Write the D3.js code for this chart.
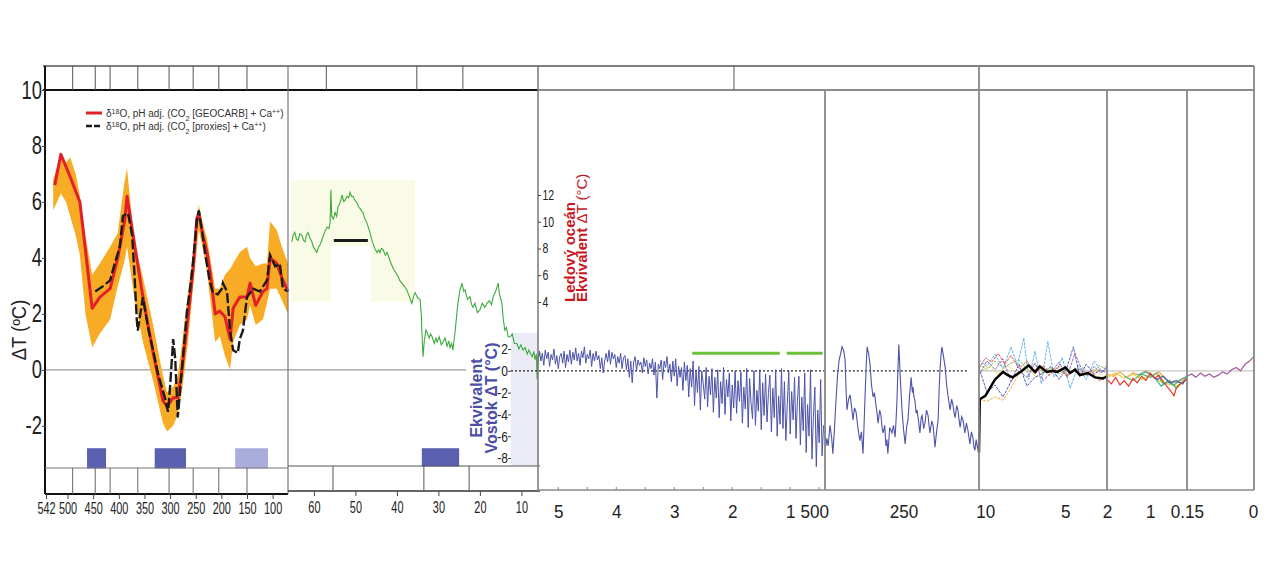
<!DOCTYPE html>
<html lang="cs">
<head>
<meta charset="UTF-8">
<title>Teplota Země – fanerozoikum až současnost</title>
<script src="https://d3js.org/d3.v7.min.js"></script>
<style type="text/css">
    body { margin: 0; background: #fff; }
    #chartArea { width: 1270px; height: 569px; }
    svg text { font-family: 'Liberation Sans', Arial, sans-serif; }
</style>
</head>
<body>
<div id="chartArea"></div>
<script type="text/javascript">
// ---------------- data ----------------
var yTicksMain = [10, 8, 6, 4, 2, 0, -2];
var yTicksDeep = [12, 10, 8, 6, 4];
var yTicksVostok = [2, 0, -2, -4, -6, -8];
var phanTicks = [542, 500, 450, 400, 350, 300, 250, 200, 150, 100];
var cenoTicks = [60, 50, 40, 30, 20, 10];
var plioTicks = [5, 4, 3, 2, 1];
var plioMinor = [5, 4.5, 4, 3.5, 3, 2.5, 2, 1.5, 1, 0.5];
var vostokTicks = [500, 250];
var holoTicks = [10, 5, 2];
var millTicks = [1, 0.15];
var modernTicks = [0];

// period / epoch boundaries (Ma) seen in the strips
var periodBounds = [490, 446, 417, 363, 302, 255, 205, 150];
var epochTop = [57, 35.2, 24.1];
var epochBottom = [55.4, 33.5, 22.6];
var plioTop = [1.97];

// glaciations (Ma)
var phanGlacial = [[462, 425], [330, 269]];
var phanGlacialLight = [[173, 109]];
var cenoGlacial = [[34, 25]];

// Royer: d18O pH adj. GEOCARB (red), proxies (black dashed), band [Ma, lo, hi]
var royerRed = [[525,6.6],[513,7.7],[495,6.9],[476,6.0],[452,2.2],[437,2.6],[417,2.9],[402,4.0],[388,5.4],[384,6.2],
    [353,2.6],[333,0.6],[314,-1.1],[306,-1.3],[294,-1.0],[285,-1.0],[277,0.0],[265,1.9],[255,3.6],[248,5.4],[244,5.6],
    [236,4.8],[228,4.2],[222,3.5],[212,2.0],[203,2.1],[193,1.9],[183,1.1],[177,2.2],[164,2.6],[150,2.6],[144,3.1],
    [133,2.3],[119,2.8],[111,2.9],[105,4.0],[92,3.8],[82,3.3],[70,2.8]];
var royerProxy = [[446,2.8],[430,3.0],[417,3.2],[408,3.8],[398,4.4],[392,5.5],[382,5.6],[374,4.8],[370,3.6],[365,1.8],
    [363,1.4],[353,2.6],[343,1.5],[333,0.7],[324,-0.1],[310,-1.0],[304,-1.5],[300,-0.6],[294,1.1],[290,0.4],[285,-1.7],
    [277,0.0],[267,2.1],[261,2.9],[255,3.9],[248,5.3],[244,5.7],[238,5.0],[232,4.2],[222,3.1],[216,2.75],[207,2.7],
    [199,2.9],[197,3.1],[189,2.8],[183,1.4],[177,0.7],[168,0.6],[164,1.1],[158,1.4],[150,2.6],[138,2.9],[125,2.8],
    [111,3.2],[105,4.1],[95,3.7],[86,3.8],[80,2.9],[70,2.8]];
var royerBand = [[528,5.7,6.8],[513,6.3,7.7],[503,6.0,7.4],[495,5.5,7.6],[484,4.8,7.0],[476,4.1,6.2],[465,2.0,4.8],
    [452,0.8,3.4],[437,1.3,3.8],[417,1.8,4.4],[402,3.0,4.9],[390,3.8,6.6],[384,4.4,7.2],[370,2.6,4.6],[353,1.0,3.3],
    [333,-0.4,1.6],[314,-1.9,-0.2],[306,-2.2,-0.8],[294,-2.0,-0.6],[285,-1.6,-0.2],[277,-0.8,0.9],[265,1.0,2.8],
    [255,3.0,4.2],[244,5.0,5.9],[236,4.3,5.2],[228,3.5,4.7],[212,1.0,2.9],[203,1.2,2.9],[193,0.5,3.4],[183,0.0,3.6],
    [177,1.0,3.8],[164,1.6,4.2],[150,1.8,4.4],[144,2.3,4.0],[133,1.6,3.7],[119,1.8,3.8],[111,2.4,3.8],[105,2.9,5.3],
    [92,2.9,5.0],[82,2.5,4.4],[70,2.0,3.8]];

// Cenozoic deep ocean (Ma, deg C) and Eocene bar
var deepOcean = [[65.3,8.5],[65.0,9.0],[64.6,9.2],[64.2,8.7],[63.8,8.6],[63.4,9.1],[62.9,9.0],[62.5,8.6],[62.1,8.5],
    [61.8,9.0],[61.4,9.2],[61.0,8.8],[60.5,8.5],[60.1,8.1],[59.7,7.9],[59.3,7.7],[58.9,8.1],[58.5,8.3],[58.1,8.6],
    [57.8,8.9],[57.3,9.3],[56.8,9.6],[56.4,9.5],[56.1,9.9],[55.9,12.4],[55.7,10.4],[55.3,10.2],[54.9,10.7],[54.5,10.4],
    [54.2,11.1],[53.7,11.4],[53.2,12.0],[52.8,11.5],[52.5,11.6],[52.0,11.9],[51.6,11.8],[51.3,12.2],[50.9,11.9],
    [50.6,11.9],[50.1,11.6],[49.6,11.4],[49.2,11.1],[48.9,11.0],[48.5,10.8],[48.2,10.7],[47.7,10.2],[47.2,9.9],
    [46.8,9.5],[46.5,9.2],[46.1,8.7],[45.8,8.4],[45.3,8.0],[44.8,7.7],[44.4,7.9],[44.1,7.7],[43.7,8.0],[43.3,7.9],
    [42.8,7.5],[42.4,7.7],[42.0,7.4],[41.7,7.1],[41.3,6.8],[40.9,6.5],[40.3,6.2],[39.7,5.9],[39.3,5.6],[38.5,5.3],
    [37.6,4.9],[37.0,4.4],[36.4,3.9],[36.0,4.4],[35.6,4.7],[35.0,4.3],[34.4,4.2],[34.1,2.9],[34.0,1.9],[33.7,-0.1],
    [33.4,1.1],[33.0,1.9],[32.7,1.7],[32.2,1.3],[31.9,1.6],[31.5,1.4],[31.0,0.9],[30.6,1.3],[30.3,1.0],[29.8,1.4],
    [29.3,0.8],[28.9,1.0],[28.4,1.3],[27.9,0.7],[27.5,1.1],[27.2,0.6],[26.8,0.9],[26.5,0.4],[26.2,1.2],[26.0,1.7],
    [25.6,3.0],[25.3,3.9],[24.8,4.9],[24.3,5.4],[23.9,4.8],[23.6,4.9],[23.0,4.2],[22.4,4.4],[22.0,3.8],[21.7,3.6],
    [21.2,3.9],[20.6,3.2],[20.0,3.4],[19.4,3.9],[18.8,3.6],[18.3,3.9],[17.7,4.1],[17.2,3.8],[16.8,4.4],[16.2,4.8],
    [15.6,5.4],[15.3,4.6],[14.7,3.9],[14.4,2.8],[14.0,1.9],[13.6,2.1],[13.2,1.4],[12.7,1.4],[12.2,1.6],[11.7,0.9],
    [11.1,0.9],[10.6,0.5],[10.1,0.8],[9.6,0.4],[9.1,0.6],[8.6,0.1],[8.2,0.4],[7.9,0.2],[7.4,-0.1],[7.0,0.3],
    [6.7,-0.3],[6.4,0.1],[6.2,-1.8],[5.9,-0.2],[5.5,0.2]];
var deepBar = [[55.2, 47, 8.6]];

// Plio-Pleistocene (Vostok-equivalent deg C), 5.35 Ma onwards every 0.025 Ma
var plioStart = 5.35;
var plioStep = 0.025;
var plioValues = [
    1.2, 1.8, 0.9, 1.6, 0.5, 1.9, 1.1, 1.7, 0.4, 1.5, 1.0, 2.0, 0.6, 1.4, 0.2, 1.3, 1.6, 0.7, 1.8, 0.3,
    1.5, 0.8, 1.9, 0.6, 1.7, 1.0, 2.1, 0.9, 1.6, 0.5, 1.8, 1.2, 2.2, 0.7, 1.5, 1.1, 1.9, 0.4, 1.6, 0.9,
    1.8, 1.0, 1.4, 0.2, 1.2, -0.2, 0.9, 1.6, 0.8, 1.9, 0.6, 1.7, 1.1, 1.5, 0.3, 1.3, 0.7, 1.6, 0.2, 1.2,
    1.4, 0.1, 1.1, -0.6, 0.9, -1.1, 0.8, 1.3, 0.0, 1.0, 0.5, 0.8, -0.2, 1.2, 0.4, 1.0, -0.3, 0.7, 0.2, 1.1,
    -0.4, 0.8, -2.5, 0.6, 0.2, 1.0, -0.8, 0.9, 0.3, 1.3, -0.2, 0.6, -1.0, 0.9, -0.5, 1.1, -1.4, 0.4, -0.6, 0.3,
    -1.8, 0.8, -0.9, 0.5, -2.4, 0.2, -1.5, 0.9, -3.2, 0.1, -2.0, 0.4, -3.6, 0.0, -1.2, -2.6, 0.3, -3.3, -0.5, -2.2,
    0.2, -3.8, -0.6, -2.5, 0.1, -4.3, -1.0, -3.0, 0.3, -4.0, -0.8, -2.4, -0.2, -4.6, -1.3, -3.4, 0.0, -3.9, -0.9, -2.8,
    -0.1, -4.8, -1.5, -3.5, 0.2, -5.2, -0.7, -3.0, -4.4, 0.0, -5.0, -1.8, -3.7, 0.1, -5.4, -1.1, -4.1, -0.3, -4.7, -2.0,
    -0.4, -5.6, -1.6, -4.3, 0.1, -6.0, -2.3, -4.9, 0.2, -5.3, -1.0, -6.4, -3.0, 0.0, -5.8, -1.9, -4.5, -0.6, -6.2, -2.7,
    -0.5, -6.8, -2.4, -5.5, -0.2, -7.5, -3.1, -6.0, 0.1, -8.1, -4.2, -1.5, -8.8, -3.6, -6.6, -0.8, -7.8, -5.0];
var plioGreenBars = [[2.69, 1.18, 1.6], [1.06, 0.44, 1.6]];

// Vostok ice core (ka, deg C)
var vostok = [[500,-5.5],[497,-6.9],[494,-6.2],[490,-6.9],[484,-5.0],[479,-6.1],[475,-7.6],[470,-5.4],[465,-2.7],
    [460,-0.4],[455,1.0],[450,1.6],[446,2.2],[441,1.9],[436,1.0],[433,-1.8],[430,-3.6],[425,-2.6],[420,-2.2],
    [415,-3.4],[411,-4.5],[406,-3.4],[401,-3.8],[395,-5.3],[389,-6.4],[384,-5.6],[379,-7.6],[376,-5.2],[373,-2.7],
    [369,0.4],[366,2.2],[361,1.5],[357,0.7],[352,-1.3],[347,-2.4],[343,-2.0],[338,-3.1],[334,-4.0],[331,-4.8],
    [326,-3.6],[322,-4.1],[318,-5.3],[315,-5.7],[310,-5.0],[306,-6.9],[303,-6.3],[300,-7.6],[294,-5.2],[287,-5.7],
    [282,-5.0],[277,-6.1],[274,-4.6],[271,-2.7],[268,0.0],[265,2.4],[260,-0.9],[255,-3.6],[250,-5.4],[245,-6.7],
    [240,-5.1],[236,-4.5],[231,-2.3],[226,-0.6],[222,-2.0],[220,-1.5],[217,-2.4],[214,-2.7],[210,-3.9],[207,-3.6],
    [202,-4.7],[198,-5.7],[194,-4.3],[191,-4.1],[186,-5.3],[182,-4.8],[177,-3.6],[172,-4.1],[169,-5.0],[166,-5.7],
    [160,-4.6],[156,-5.0],[153,-6.0],[150,-7.0],[145,-5.6],[140,-4.5],[137,-1.8],[134,0.1],[131,1.4],[128,2.2],
    [124,1.5],[118,0.4],[113,-1.3],[109,-2.2],[105,-3.0],[102,-3.6],[97,-2.6],[93,-3.1],[89,-3.9],[86,-4.3],
    [81,-3.2],[77,-3.6],[73,-4.6],[70,-5.2],[65,-4.2],[61,-4.5],[58,-5.1],[55,-5.7],[50,-4.8],[45,-5.5],
    [42,-6.1],[39,-6.7],[34,-5.6],[29,-6.2],[26,-7.0],[23,-7.3],[19,-6.3],[16,-6.9],[13,-7.2],[10,-7.6]];
var vostokZero = [475, 45];

// Holocene (ka, deg C), black = mean
var holoMean = [[10.0,-7.5],[9.95,-2.6],[9.6,-2.3],[9.2,-1.3],[9.0,-0.8],[8.5,-0.1],[8.2,-0.4],[7.9,-0.6],
    [7.4,-0.1],[6.9,0.5],[6.5,-0.1],[6.2,0.4],[5.75,-0.1],[5.4,0.0],[5.1,-0.1],[4.6,0.3],[4.3,-0.2],[4.0,0.1],
    [3.7,-0.4],[3.2,-0.2],[2.75,-0.6],[2.25,-0.7],[2.0,-0.5]];
var holoRed = [[10,0.2],[9.6,1.2],[9.2,0.8],[8.8,1.6],[8.4,0.6],[8.0,1.4],[7.5,0.2],[7.0,0.9],[6.5,-0.3],[6.0,0.5],
    [5.5,-0.2],[5.0,0.4],[4.5,-0.5],[4.0,0.2],[3.5,-0.4],[3.0,0.0],[2.5,-0.9],[2.0,-0.6]];
var holoOrange = [[10,-2.6],[9.5,-2.8],[9.0,-2.4],[8.5,-2.7],[8.0,-1.6],[7.6,-0.5],[7.2,0.3],[6.8,-0.1],[6.2,0.2],
    [5.6,-0.4],[5.0,0.1],[4.4,-0.3],[3.8,0.2],[3.2,-0.2],[2.6,0.1],[2.0,-0.1]];
var holoLightBlue = [[10,1.0],[9.5,0.4],[9.0,1.5],[8.5,0.2],[8.0,2.2],[7.6,0.5],[7.2,3.0],[6.9,-0.8],[6.5,1.8],
    [6.1,-1.2],[5.7,2.7],[5.3,-0.6],[4.8,1.2],[4.3,-1.6],[3.8,0.5],[3.3,-0.8],[2.8,0.9],[2.3,-0.2],[2.0,0.6]];
var holoBlue = [[10,0.3],[9.5,-2.0],[9.0,-1.3],[8.5,-2.4],[8.0,-1.0],[7.5,0.6],[7.0,-1.4],[6.5,-0.6],[6.0,-0.2],
    [5.5,0.4],[5.0,-0.8],[4.5,0.3],[4.1,2.2],[3.7,-0.5],[3.3,0.6],[2.8,-0.3],[2.4,0.1],[2.0,-0.2]];
var holoPurple = [[10,-0.4],[9.5,0.9],[9.0,0.1],[8.5,1.1],[8.0,-1.0],[7.5,0.0],[7.0,-0.6],[6.5,0.7],[6.0,-0.9],
    [5.5,-0.2],[5.0,0.8],[4.5,-0.6],[4.0,1.6],[3.6,0.2],[3.2,-0.5],[2.8,0.4],[2.4,-0.2],[2.0,0.3]];
var holoGreen = [[10,0.6],[9.5,0.1],[9.0,0.9],[8.5,0.3],[8.0,0.7],[7.5,1.0],[7.0,0.2],[6.5,0.6],[6.0,-0.2],
    [5.5,0.3],[5.0,-0.3],[4.5,0.2],[4.0,-0.1],[3.5,0.3],[3.0,-0.4],[2.5,0.5],[2.0,0.1]];
var holoYellow = [[10,-0.2],[9.4,0.4],[8.8,-0.3],[8.2,0.5],[7.6,-0.4],[7.0,0.2],[6.4,-0.6],[5.8,-0.1],[5.2,0.3],
    [4.6,-0.4],[4.0,0.0],[3.4,-0.5],[2.8,0.1],[2.2,-0.6],[2.0,-0.3]];

// last 2000 years (ka, deg C)
var millRed = [[2.0,-0.8],[1.9,-1.2],[1.8,-0.6],[1.7,-1.3],[1.6,-0.9],[1.5,-1.4],[1.4,-0.7],[1.3,-1.1],[1.2,-0.5],
    [1.1,-0.9],[1.0,-0.2],[0.9,-0.7],[0.8,-0.4],[0.7,-1.0],[0.6,-1.5],[0.5,-2.0],[0.45,-2.3],[0.4,-1.6],[0.3,-1.2],
    [0.2,-0.9],[0.15,-0.7]];
var millOrange = [[2.0,-0.3],[1.85,-0.5],[1.7,-0.1],[1.55,-0.6],[1.4,-0.2],[1.25,-0.4],[1.1,0.0],[0.95,-0.4],
    [0.8,-0.1],[0.65,-0.7],[0.5,-1.1],[0.35,-1.0],[0.15,-0.6]];
var millYellow = [[2.0,-0.6],[1.8,-0.2],[1.6,-0.7],[1.4,-0.3],[1.2,-0.8],[1.0,-0.4],[0.8,-0.9],[0.6,-1.2],
    [0.4,-1.4],[0.2,-0.9],[0.15,-0.8]];
var millGreen = [[1.6,-0.5],[1.4,-0.9],[1.2,-0.3],[1.0,-0.6],[0.85,-0.2],[0.7,-1.2],[0.55,-0.9],[0.4,-1.6],
    [0.25,-1.0],[0.15,-0.7]];
var millTeal = [[1.3,-0.4],[1.1,-0.1],[0.9,-0.6],[0.75,-1.4],[0.6,-1.0],[0.45,-1.3],[0.3,-0.8],[0.15,-0.5]];
var millBlue = [[1.0,-0.3],[0.85,-0.8],[0.7,-0.5],[0.55,-1.1],[0.4,-0.9],[0.25,-1.2],[0.15,-0.6]];

// instrumental (ka, deg C)
var modernPurple = [[0.15,-0.5],[0.14,-0.3],[0.13,-0.6],[0.12,-0.2],[0.11,-0.5],[0.10,-0.3],[0.09,-0.6],[0.08,-0.4],
    [0.07,-0.1],[0.06,-0.3],[0.05,0.1],[0.04,0.3],[0.03,0.0],[0.02,0.6],[0.01,0.9],[0.005,1.1],[0,1.3]];

// ---------------- chart ----------------
var w = 1270, h = 569;
var svg = d3.select('#chartArea').append('svg')
    .attr('width', w)
    .attr('height', h);

var top0 = 66, top1 = 90, bottomR = 490;

var yMain = d3.scaleLinear().domain([-4.4, 10]).range([493, 90]);
var yDeep = d3.scaleLinear().domain([4, 12]).range([302, 195]);
var yV = d3.scaleLinear().domain([-8, 2]).range([458, 349]);

var xPhan = d3.scaleLinear().domain([544, 70]).range([45, 288]);
var xCeno = d3.scaleLinear().domain([66, 6]).range([289, 538]);
var xPlio = d3.scaleLinear().domain([5.35, 0.4]).range([538, 825]);
var xVos = d3.scaleLinear().domain([500, 10]).range([825, 979]);
var xHolo = d3.scaleLinear().domain([10, 2]).range([979, 1107]);
var xMill = d3.scaleLinear().domain([2, 0.15]).range([1107, 1187]);
var xMod = d3.scaleLinear().domain([0.15, 0]).range([1187, 1254]);

function lineOf(x, y) {
    return d3.line().x(function (d) { return x(d[0]); }).y(function (d) { return y(d[1]); });
}

// backgrounds
svg.append('rect').attr('x', 291).attr('y', 180).attr('width', 124).attr('height', 122).attr('fill', '#fafbe6');
svg.append('rect').attr('x', 331).attr('y', 246).attr('width', 40).attr('height', 56).attr('fill', '#ffffff');
svg.append('rect').attr('x', 511).attr('y', 333).attr('width', 27).attr('height', 133).attr('fill', '#ebebf5');

// zero lines
svg.append('line').attr('x1', 45).attr('x2', 466).attr('y1', yMain(0)).attr('y2', yMain(0))
    .attr('stroke', '#9a9a9a').attr('stroke-width', 1.2);
svg.append('line').attr('x1', 979).attr('x2', 1254).attr('y1', yV(0)).attr('y2', yV(0))
    .attr('stroke', '#c8c8c8').attr('stroke-width', 1.2);

// Phanerozoic band and lines
svg.append('path').datum(royerBand)
    .attr('d', d3.area().x(function (d) { return xPhan(d[0]); })
        .y0(function (d) { return yMain(d[1]); }).y1(function (d) { return yMain(d[2]); }))
    .attr('fill', '#f8ab24');
svg.append('path').datum(royerRed).attr('d', lineOf(xPhan, yMain))
    .attr('fill', 'none').attr('stroke', '#e3202a').attr('stroke-width', 3).attr('stroke-linejoin', 'round');
svg.append('path').datum(royerProxy).attr('d', lineOf(xPhan, yMain))
    .attr('fill', 'none').attr('stroke', '#1b1b1b').attr('stroke-width', 2.4)
    .attr('stroke-dasharray', '10,3');

// glaciations
svg.selectAll('rect.gl').data(phanGlacial).enter().append('rect').attr('class', 'gl')
    .attr('x', function (d) { return xPhan(d[0]); })
    .attr('width', function (d) { return xPhan(d[1]) - xPhan(d[0]); })
    .attr('y', yMain(-2.8)).attr('height', yMain(-3.52) - yMain(-2.8))
    .attr('fill', '#5b5fb0');
svg.selectAll('rect.gll').data(phanGlacialLight).enter().append('rect').attr('class', 'gll')
    .attr('x', function (d) { return xPhan(d[0]); })
    .attr('width', function (d) { return xPhan(d[1]) - xPhan(d[0]); })
    .attr('y', yMain(-2.8)).attr('height', yMain(-3.52) - yMain(-2.8))
    .attr('fill', '#aaacdc');
svg.selectAll('rect.gc').data(cenoGlacial).enter().append('rect').attr('class', 'gc')
    .attr('x', function (d) { return xCeno(d[0]); })
    .attr('width', function (d) { return xCeno(d[1]) - xCeno(d[0]); })
    .attr('y', yMain(-2.8)).attr('height', yMain(-3.45) - yMain(-2.8))
    .attr('fill', '#5b5fb0');

// Cenozoic deep ocean
svg.append('path').datum(deepOcean).attr('d', lineOf(xCeno, yDeep))
    .attr('fill', 'none').attr('stroke', '#3dab3d').attr('stroke-width', 1.1);
svg.selectAll('line.db').data(deepBar).enter().append('line').attr('class', 'db')
    .attr('x1', function (d) { return xCeno(d[0]); }).attr('x2', function (d) { return xCeno(d[1]); })
    .attr('y1', function (d) { return yDeep(d[2]); }).attr('y2', function (d) { return yDeep(d[2]); })
    .attr('stroke', '#1a1a1a').attr('stroke-width', 3);

// dotted zero lines
svg.append('line').attr('x1', 511).attr('x2', 825).attr('y1', yV(0)).attr('y2', yV(0))
    .attr('stroke', '#222').attr('stroke-width', 1.3).attr('stroke-dasharray', '2,2');
svg.append('line').attr('x1', xVos(vostokZero[0])).attr('x2', xVos(vostokZero[1]))
    .attr('y1', yV(0)).attr('y2', yV(0))
    .attr('stroke', '#222').attr('stroke-width', 1.3).attr('stroke-dasharray', '2,2');

// Plio-Pleistocene
var plioSeries = plioValues.map(function (v, i) { return [plioStart - i * plioStep, v]; });
svg.append('path').datum(plioSeries).attr('d', lineOf(xPlio, yV))
    .attr('fill', 'none').attr('stroke', '#4d52aa').attr('stroke-width', 1);
svg.selectAll('line.gb').data(plioGreenBars).enter().append('line').attr('class', 'gb')
    .attr('x1', function (d) { return xPlio(d[0]); }).attr('x2', function (d) { return xPlio(d[1]); })
    .attr('y1', function (d) { return yV(d[2]); }).attr('y2', function (d) { return yV(d[2]); })
    .attr('stroke', '#6cc03c').attr('stroke-width', 3);

// Vostok
svg.append('path').datum(vostok).attr('d', lineOf(xVos, yV))
    .attr('fill', 'none').attr('stroke', '#4d52aa').attr('stroke-width', 1.1);

// Holocene
var holoSet = [[holoOrange, '#f6b04a'], [holoYellow, '#e8d84a'], [holoGreen, '#8cc66a'], [holoLightBlue, '#5fb8e8'],
    [holoBlue, '#5060c0'], [holoPurple, '#a064c0'], [holoRed, '#e8584a']];
holoSet.forEach(function (s) {
    svg.append('path').datum(s[0]).attr('d', lineOf(xHolo, yV))
        .attr('fill', 'none').attr('stroke', s[1]).attr('stroke-width', 1).attr('stroke-dasharray', '3,1');
});
svg.append('path').datum(holoMean).attr('d', lineOf(xHolo, yV))
    .attr('fill', 'none').attr('stroke', '#000').attr('stroke-width', 2.4);

var millSet = [[millOrange, '#f2a040'], [millYellow, '#e6d040'], [millGreen, '#5cb85c'], [millTeal, '#40b0a0'],
    [millBlue, '#4060b0'], [millRed, '#e83a2a']];
millSet.forEach(function (s) {
    svg.append('path').datum(s[0]).attr('d', lineOf(xMill, yV))
        .attr('fill', 'none').attr('stroke', s[1]).attr('stroke-width', 1.2);
});
svg.append('path').datum(modernPurple).attr('d', lineOf(xMod, yV))
    .attr('fill', 'none').attr('stroke', '#a05a9a').attr('stroke-width', 1.2);

// ---------- frames ----------
function vline(x, y1, y2, col, sw) {
    svg.append('line').attr('x1', x).attr('x2', x).attr('y1', y1).attr('y2', y2)
        .attr('stroke', col).attr('stroke-width', sw);
}
function hline(x1, x2, y, col, sw) {
    svg.append('line').attr('x1', x1).attr('x2', x2).attr('y1', y).attr('y2', y)
        .attr('stroke', col).attr('stroke-width', sw);
}
// top strip
hline(43, 1254, top0, '#555', 1.5);
hline(43, 538, top1, '#111', 2);
hline(538, 1254, top1, '#666', 1.5);
periodBounds.forEach(function (d) { vline(xPhan(d), top0, top1, '#555', 1); });
epochTop.forEach(function (d) { vline(xCeno(d), top0, top1, '#555', 1); });
plioTop.forEach(function (d) { vline(xPlio(d), top0, top1, '#555', 1); });

// left panel
vline(45, top0, 494, '#111', 2);
hline(45, 288, 468, '#777', 1);
hline(45, 288, 494, '#111', 2);
periodBounds.forEach(function (d) { vline(xPhan(d), 468, 494, '#666', 1); });
vline(288, top0, 494, '#777', 1.2);
// middle panel
hline(288, 540, 466, '#555', 1);
hline(288, 540, 491, '#333', 1.5);
epochBottom.forEach(function (d) { vline(xCeno(d), 466, 491, '#555', 1); });
vline(538, top0, 491, '#777', 1.5);
// right panels
hline(538, 1254, bottomR, '#888', 1.5);
vline(xPlio.range()[1], top1, bottomR, '#888', 1.8);
vline(xVos.range()[1], top0, bottomR, '#888', 1.8);
vline(xHolo.range()[1], top1, bottomR, '#888', 1.8);
vline(xMill.range()[1], top1, bottomR, '#888', 1.8);
vline(xMod.range()[1], top0, bottomR, '#888', 1.8);
plioMinor.forEach(function (d) { vline(xPlio(d), bottomR - 3, bottomR, '#888', 1); });

// ---------- axes ----------
// sx squeezes the glyphs horizontally (no narrow font installed)
function styleAxis(g, size, sx) {
    g.select('.domain').remove();
    g.selectAll('text').style('font-size', size).attr('fill', '#222')
        .attr('transform', 'scale(' + sx + ',1)');
    g.selectAll('line').attr('stroke', '#444');
}
var plain = function (d) { return String(d); };

svg.append('g').attr('transform', 'translate(45,0)')
    .call(d3.axisLeft(yMain).tickValues(yTicksMain).tickSize(3).tickPadding(1).tickFormat(plain))
    .call(styleAxis, '25px', 0.74);

svg.append('g').attr('transform', 'translate(538,0)')
    .call(d3.axisRight(yDeep).tickValues(yTicksDeep).tickSize(3).tickPadding(3).tickFormat(plain))
    .call(styleAxis, '14px', 0.75);

svg.append('g').attr('transform', 'translate(511,0)')
    .call(d3.axisLeft(yV).tickValues(yTicksVostok).tickSize(3).tickPadding(1).tickFormat(plain))
    .call(styleAxis, '15px', 0.8);

svg.append('g').attr('transform', 'translate(0,494)')
    .call(d3.axisBottom(xPhan).tickValues(phanTicks).tickSize(5).tickPadding(3).tickFormat(plain))
    .call(styleAxis, '17px', 0.64);
svg.append('g').attr('transform', 'translate(0,491)')
    .call(d3.axisBottom(xCeno).tickValues(cenoTicks).tickSize(5).tickPadding(5).tickFormat(plain))
    .call(styleAxis, '17px', 0.64);

function rightAxis(x, ticks, dx) {
    var g = svg.append('g').attr('transform', 'translate(0,' + bottomR + ')')
        .call(d3.axisBottom(x).tickValues(ticks).tickSize(0).tickPadding(15).tickFormat(plain))
        .call(styleAxis, '19px', 0.9);
    g.selectAll('text').attr('dx', dx);
}
rightAxis(xPlio, plioTicks, 0);
rightAxis(xVos, vostokTicks, function (d) { return d === 500 ? -12 : 0; });
rightAxis(xHolo, holoTicks, function (d) { return d === 10 ? 7 : (d === 5 ? 7 : 0); });
rightAxis(xMill, millTicks, 0);
rightAxis(xMod, modernTicks, -1);

// axis titles
svg.append('text').attr('transform', 'translate(26,330) rotate(-90) scale(0.92,1)')
    .attr('text-anchor', 'middle').style('font-size', '20px').attr('fill', '#222')
    .text('ΔT (ºC)');

var red = svg.append('g').attr('fill', '#c8161d').style('font-size', '15px');
red.append('text').attr('transform', 'translate(575,302) rotate(-90)')
    .style('font-weight', 'bold').text('Ledový oceán');
var red2 = red.append('text').attr('transform', 'translate(587,302) rotate(-90)');
red2.append('tspan').style('font-weight', 'bold').text('Ekvivalent ');
red2.append('tspan').text('ΔT (°C)');

var blue = svg.append('g').attr('fill', '#4b4fa6').style('font-size', '16px')
    .style('font-weight', 'bold').attr('text-anchor', 'middle');
blue.append('text').attr('transform', 'translate(482,398) rotate(-90)').text('Ekvivalent');
blue.append('text').attr('transform', 'translate(497,398) rotate(-90)').text('Vostok ΔT (°C)');

// legend
var leg = svg.append('g').style('font-size', '10px').attr('fill', '#333');
leg.append('line').attr('x1', 86).attr('x2', 102).attr('y1', 113).attr('y2', 113)
    .attr('stroke', '#e3202a').attr('stroke-width', 3);
leg.append('line').attr('x1', 86).attr('x2', 102).attr('y1', 126).attr('y2', 126)
    .attr('stroke', '#1b1b1b').attr('stroke-width', 2.4).attr('stroke-dasharray', '6,2');
function legText(y, label) {
    var t = leg.append('text').attr('x', 106).attr('y', y);
    t.append('tspan').text('δ');
    t.append('tspan').attr('baseline-shift', 'super').style('font-size', '7px').text('18');
    t.append('tspan').text('O, pH adj. (CO');
    t.append('tspan').attr('baseline-shift', 'sub').style('font-size', '7px').text('2');
    t.append('tspan').text(' [' + label + '] + Ca');
    t.append('tspan').attr('baseline-shift', 'super').style('font-size', '7px').text('++');
    t.append('tspan').text(')');
}
legText(117, 'GEOCARB');
legText(130, 'proxies');
</script>
</body>
</html>
